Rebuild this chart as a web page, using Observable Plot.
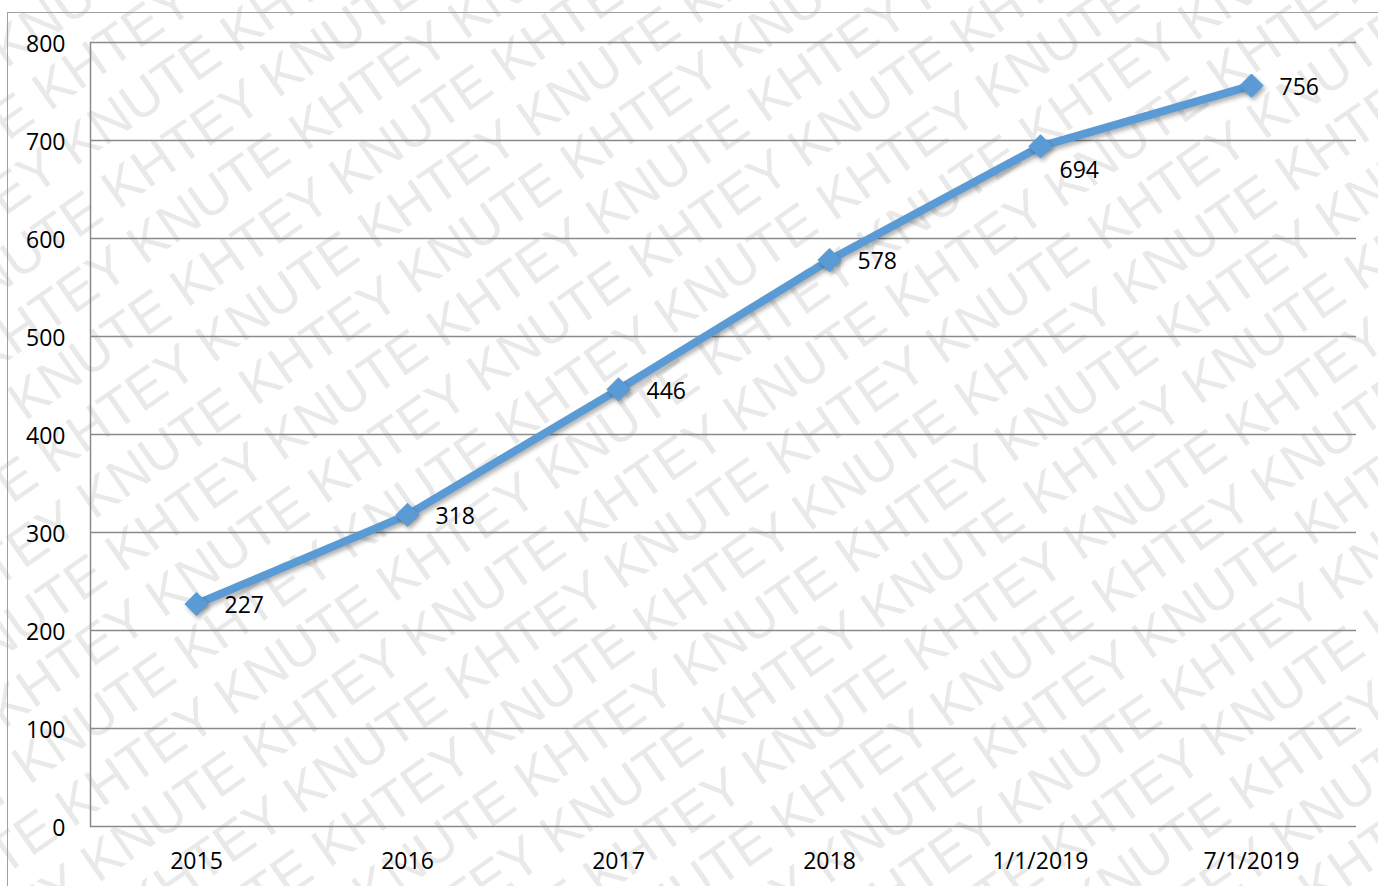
<!DOCTYPE html>
<html><head><meta charset="utf-8">
<script src="https://cdn.jsdelivr.net/npm/d3@7"></script>
<script src="https://cdn.jsdelivr.net/npm/@observablehq/plot@0.6"></script>
<style>
html,body{margin:0;padding:0;background:#fff;}
#wrap{position:relative;width:1378px;height:886px;overflow:hidden;background:#fff;}
#wm{position:absolute;left:0;top:0;}
#border{position:absolute;left:7px;top:12px;width:1400px;height:900px;border-left:1.5px solid #a0a0a0;border-top:1.5px solid #a0a0a0;}
#chart{position:absolute;left:0;top:0;}
#chart svg{background:transparent !important;}
</style></head><body>
<div id="wrap"><svg id="wm" width="1378" height="886"></svg><div id="border"></div><div id="chart"></div></div>
<script>
const categories = ["2015", "2016", "2017", "2018", "1/1/2019", "7/1/2019"];
const values = [227, 318, 446, 578, 694, 756];
const yTicks = [0, 100, 200, 300, 400, 500, 600, 700, 800];
const watermarkWords = ["KHTEY", "KNUTE"];

// watermark
const wm = d3.select("#wm");
const g = wm.append("g").attr("transform", "rotate(-35)");
const phrase = d3.range(14).map(i => watermarkWords[i % 2]).join(" ");
for (let k = -18; k < 36; k++) {
  g.append("text")
    .attr("x", -1200 + (k % 2 === 0 ? 0 : -205))
    .attr("y", k * 60)
    .attr("font-family", "Liberation Sans, Arial, sans-serif")
    .attr("font-size", 54)
    .attr("fill", "#e9e9e9")
    .text(phrase + " " + phrase);
}

const data = categories.map((c, i) => ({cat: c, value: values[i], i}));
const font = "'Open Sans', 'Noto Sans', sans-serif";

const chart = Plot.plot({
  width: 1378,
  height: 886,
  marginLeft: 90,
  marginRight: 22,
  marginTop: 42,
  marginBottom: 60,
  style: {background: "transparent", fontFamily: font, fontSize: "23px", color: "#000"},
  x: {type: "point", domain: categories, padding: 0.5, label: null},
  y: {domain: [0, 800], label: null},
  marks: [
    Plot.ruleY(yTicks, {stroke: "#8a8a8a", strokeWidth: 1.5, strokeOpacity: 1}),
    Plot.frame({anchor: "left", stroke: "#8a8a8a", strokeWidth: 1.5, strokeOpacity: 1}),
    Plot.axisY({ticks: yTicks, tickSize: 0, tickPadding: 25, dy: 2, label: null, fontSize: 23, fill: "#000"}),
    Plot.axisX({tickSize: 0, tickPadding: 26, label: null, fontSize: 23, fill: "#000"}),
    Plot.line(data, {x: "cat", y: "value", stroke: "#5B9BD5", strokeWidth: 8, strokeLinejoin: "round", strokeLinecap: "round"}),
    Plot.dot(data, {x: "cat", y: "value", symbol: "diamond2", r: 10.5, fill: "#5B9BD5", stroke: "#5B9BD5", strokeWidth: 1}),
    Plot.text(data.filter(d => d.i !== 4), {x: "cat", y: "value", text: d => String(d.value), textAnchor: "start", dx: 28, dy: 2, fontSize: 23, fill: "#000"}),
    Plot.text(data.filter(d => d.i === 4), {x: "cat", y: "value", text: d => String(d.value), textAnchor: "start", dx: 19, dy: 24, fontSize: 23, fill: "#000"})
  ]
});
document.getElementById("chart").appendChild(chart);
d3.select(chart).selectAll("g[aria-label=line] path, g[aria-label=dot] path")
  .style("filter", "drop-shadow(2px 3px 2px rgba(0,0,0,0.3))");
</script>
</body></html>
